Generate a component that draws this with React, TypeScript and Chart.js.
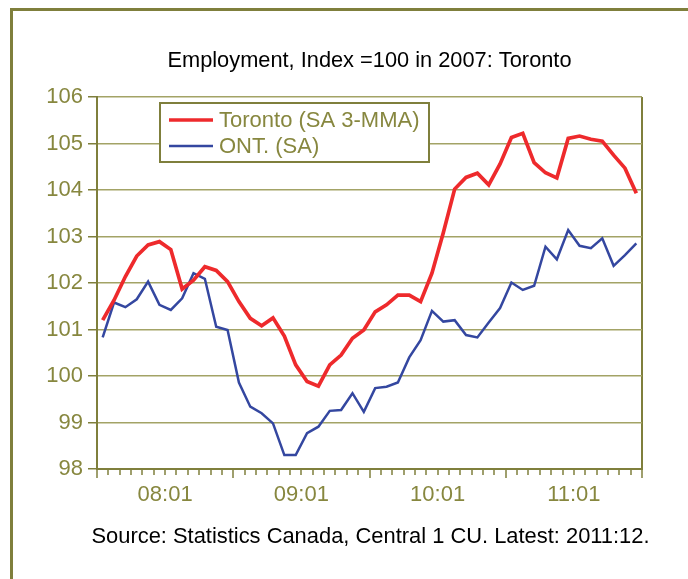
import React, { useEffect, useRef } from 'react';
import { Chart, registerables } from 'chart.js';

Chart.register(...registerables);

// ---- Data ----
const months = [
  '2008:01', '2008:02', '2008:03', '2008:04', '2008:05', '2008:06', '2008:07', '2008:08', '2008:09', '2008:10', '2008:11', '2008:12',
  '2009:01', '2009:02', '2009:03', '2009:04', '2009:05', '2009:06', '2009:07', '2009:08', '2009:09', '2009:10', '2009:11', '2009:12',
  '2010:01', '2010:02', '2010:03', '2010:04', '2010:05', '2010:06', '2010:07', '2010:08', '2010:09', '2010:10', '2010:11', '2010:12',
  '2011:01', '2011:02', '2011:03', '2011:04', '2011:05', '2011:06', '2011:07', '2011:08', '2011:09', '2011:10', '2011:11', '2011:12',
];

const yearTickLabels = ['08:01', '09:01', '10:01', '11:01'];

const torontoSA3MMA = [
  101.20, 101.63, 102.14, 102.58, 102.82, 102.89, 102.72, 101.87, 102.06, 102.35, 102.27, 102.03,
  101.60, 101.24, 101.08, 101.25, 100.86, 100.24, 99.88, 99.78, 100.24, 100.45, 100.81, 100.99,
  101.38, 101.53, 101.74, 101.74, 101.60, 102.21, 103.08, 104.02, 104.27, 104.36, 104.11, 104.56,
  105.13, 105.22, 104.59, 104.37, 104.26, 105.11, 105.16, 105.09, 105.05, 104.75, 104.47, 103.93,
];

const ontarioSA = [
  100.83, 101.58, 101.48, 101.65, 102.03, 101.53, 101.42, 101.67, 102.21, 102.09, 101.06, 100.99,
  99.86, 99.34, 99.20, 98.98, 98.30, 98.30, 98.77, 98.91, 99.25, 99.27, 99.63, 99.23,
  99.74, 99.77, 99.86, 100.40, 100.77, 101.40, 101.17, 101.20, 100.88, 100.83, 101.15, 101.46,
  102.01, 101.85, 101.94, 102.78, 102.51, 103.14, 102.80, 102.75, 102.96, 102.37, 102.60, 102.85,
];

const seriesLabels = ['Toronto (SA 3-MMA)', 'ONT. (SA)'];
const sourceText = 'Source: Statistics Canada, Central 1 CU. Latest: 2011:12.';
const yMin = 98;
const yMax = 106;

// ---- Styles ----
const FONT = "'Liberation Sans', Arial, Helvetica, sans-serif";
const OLIVE_DARK = '#7f7f3c';
const OLIVE_TEXT = '#87873f';
const GRID = '#a3a366';
const RED = '#ee2a2c';
const BLUE = '#3447a0';

const legendBoxPlugin = {
  id: 'legendBox',
  beforeDatasetsDraw(chart: any) {
    const { ctx, chartArea } = chart;
    const x = chartArea.left + 63;
    const y = chartArea.top + 6;
    const w = 269;
    const h = 59;
    ctx.save();
    ctx.fillStyle = '#ffffff';
    ctx.fillRect(x, y, w, h);
    ctx.strokeStyle = OLIVE_DARK;
    ctx.lineWidth = 2;
    ctx.strokeRect(x, y, w, h);
    chart.data.datasets.forEach((ds: any, i: number) => {
      const cy = y + 17 + i * 26;
      ctx.strokeStyle = ds.borderColor;
      ctx.lineWidth = ds.borderWidth;
      ctx.beginPath();
      ctx.moveTo(x + 9, cy);
      ctx.lineTo(x + 53, cy);
      ctx.stroke();
      ctx.fillStyle = OLIVE_TEXT;
      ctx.font = `22px ${FONT}`;
      ctx.textBaseline = 'middle';
      ctx.textAlign = 'left';
      ctx.fillText(ds.label, x + 59, cy + 1);
    });
    ctx.restore();
  },
};

// The source line is wider than the plot area: widen its box (kept centred on the plot) so it is not squeezed.
const widenSourcePlugin = {
  id: 'widenSource',
  afterLayout(chart: any) {
    const { chartArea } = chart;
    const cx = (chartArea.left + chartArea.right) / 2 + 1;
    chart.boxes.forEach((box: any) => {
      if (box.options && box.options.text === sourceText) {
        box.left = cx - 300;
        box.right = cx + 300;
        box.width = 600;
      }
    });
  },
};

export default function App() {
  const canvasRef = useRef<HTMLCanvasElement | null>(null);

  useEffect(() => {
    if (!canvasRef.current) return;
    const isMajor = (v: number) => Math.abs(((v + 0.5) % 12)) < 1e-6;
    const chart = new Chart(canvasRef.current, {
      type: 'line',
      data: {
        datasets: [
          {
            label: seriesLabels[0],
            data: torontoSA3MMA.map((v, i) => ({ x: i, y: v })),
            borderColor: RED,
            backgroundColor: RED,
            borderWidth: 3.7,
            pointRadius: 0,
            tension: 0,
          },
          {
            label: seriesLabels[1],
            data: ontarioSA.map((v, i) => ({ x: i, y: v })),
            borderColor: BLUE,
            backgroundColor: BLUE,
            borderWidth: 2.5,
            pointRadius: 0,
            tension: 0,
          },
        ],
      },
      options: {
        responsive: false,
        animation: false,
        layout: { padding: { left: 40, right: 46, top: 0, bottom: 0 } },
        plugins: {
          legend: { display: false },
          tooltip: { enabled: false },
          title: {
            display: true,
            text: 'Employment, Index =100 in 2007: Toronto',
            color: '#000000',
            font: { family: FONT, size: 21.8, weight: 'normal' as any, lineHeight: 1.2 },
            padding: { top: 47.9, bottom: 22.94 },
            fullSize: false,
          },
          subtitle: {
            display: true,
            position: 'bottom',
            text: sourceText,
            color: '#000000',
            font: { family: FONT, size: 21.9, weight: 'normal' as any, lineHeight: 1.2 },
            padding: { top: 15.66, bottom: 28.86 },
            fullSize: false,
          },
        },
        scales: {
          x: {
            type: 'linear',
            min: -0.5,
            max: months.length - 0.5,
            afterBuildTicks: (scale: any) => {
              scale.ticks = Array.from({ length: months.length + 1 }, (_, i) => ({ value: i - 0.5 }));
            },
            afterFit: (scale: any) => {
              scale.height = 39.2;
            },
            ticks: {
              autoSkip: false,
              maxRotation: 0,
              minRotation: 0,
              padding: 3.8,
              color: OLIVE_TEXT,
              font: { family: FONT, size: 22, lineHeight: 1.2 },
              callback: (value: any) => {
                const k = (Number(value) - 5.5) / 12;
                if (Math.abs(k - Math.round(k)) < 1e-6 && yearTickLabels[Math.round(k)] !== undefined) {
                  return yearTickLabels[Math.round(k)];
                }
                return '';
              },
            },
            grid: {
              drawOnChartArea: true,
              color: (ctx: any) =>
                ctx.tick && Math.abs(ctx.tick.value - (months.length - 0.5)) < 1e-6 ? OLIVE_DARK : 'rgba(0,0,0,0)',
              lineWidth: 2,
              tickLength: 9,
              tickColor: OLIVE_DARK,
              tickWidth: 1.5,
              tickBorderDash: (ctx: any) => (ctx.tick && isMajor(ctx.tick.value) ? [] : [5, 30]),
            },
            border: { color: OLIVE_DARK, width: 2 },
          },
          y: {
            min: yMin,
            max: yMax,
            afterFit: (scale: any) => {
              scale.width = 57;
            },
            ticks: {
              stepSize: 1,
              padding: 5,
              color: OLIVE_TEXT,
              font: { family: FONT, size: 22, lineHeight: 1.2 },
            },
            grid: {
              color: GRID,
              lineWidth: 1.5,
              tickLength: 9,
              tickColor: OLIVE_DARK,
              tickWidth: 1.5,
            },
            border: { color: OLIVE_DARK, width: 2 },
          },
        },
      } as any,
      plugins: [legendBoxPlugin, widenSourcePlugin],
    });
    return () => chart.destroy();
  }, []);

  return (
    <div style={{ position: 'fixed', left: 0, top: 0, width: 688, height: 579, background: '#ffffff', overflow: 'hidden' }}>
      <canvas ref={canvasRef} width={688} height={579} style={{ display: 'block', position: 'absolute', left: 0, top: 0 }} />
      <div
        style={{
          position: 'absolute',
          left: 10,
          top: 8,
          width: 720,
          height: 620,
          borderLeft: `3px solid ${OLIVE_DARK}`,
          borderTop: `3px solid ${OLIVE_DARK}`,
          pointerEvents: 'none',
        }}
      />
    </div>
  );
}
